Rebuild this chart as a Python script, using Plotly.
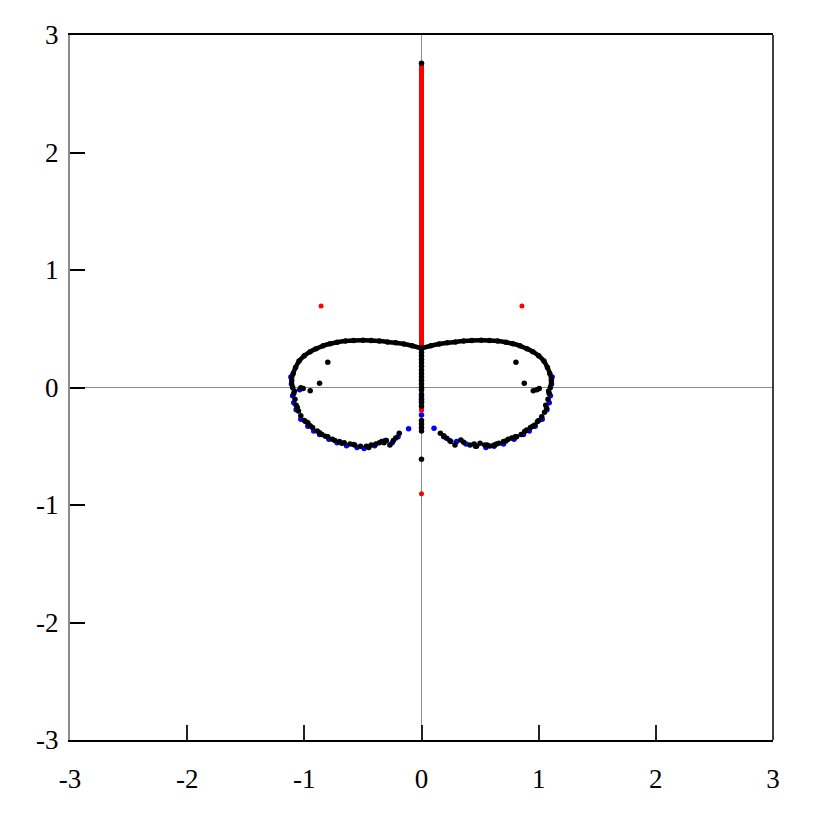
import plotly.graph_objects as go

# Upper (black) arc, left and right halves, listed from outer end to cusp
arc_left_x = [-1.10, -1.108, -1.095, -1.075, -1.045, -1.00, -0.95, -0.90, -0.84, -0.78, -0.72, -0.65, -0.58, -0.50, -0.43, -0.36, -0.29, -0.22, -0.15, -0.08, 0.0]
arc_left_y = [0.00, 0.06, 0.12, 0.17, 0.225, 0.27, 0.305, 0.33, 0.355, 0.372, 0.385, 0.395, 0.40, 0.402, 0.40, 0.395, 0.388, 0.38, 0.37, 0.355, 0.333]
arc_right_x = [1.10, 1.108, 1.095, 1.075, 1.045, 1.00, 0.95, 0.90, 0.84, 0.78, 0.72, 0.65, 0.58, 0.51, 0.43, 0.36, 0.29, 0.22, 0.15, 0.08, 0.0]
arc_right_y = [0.00, 0.06, 0.12, 0.17, 0.225, 0.27, 0.305, 0.33, 0.355, 0.372, 0.385, 0.395, 0.40, 0.402, 0.40, 0.395, 0.388, 0.38, 0.37, 0.355, 0.333]

# Scattered black points (lower arc, interior points, points on the imaginary axis)
black_x = [-1.09, -1.08, -1.07, -1.05, -1.03, -1.00, -0.97, -0.93, -0.89, -0.85, -0.80, -0.76, -0.70, -0.66, -0.61, -0.57, -0.52, -0.47, -0.43, -0.39, -0.34, -0.30, -0.27, -0.22, -0.19,
           -1.085, -1.06, -0.99, -0.95, -0.87, -0.82, -0.74, -0.68, -0.58, -0.45, -0.36, -0.32, -0.24,
           -0.80, -0.87, -1.01, -1.03, -0.95,
           1.09, 1.08, 1.068, 1.05, 1.026, 0.99, 0.968, 0.93, 0.898, 0.85, 0.812, 0.77, 0.74, 0.70, 0.66, 0.62, 0.584, 0.54, 0.50, 0.45, 0.414, 0.336, 0.286, 0.215, 0.161,
           1.085, 1.06, 1.0, 0.95, 0.88, 0.80, 0.72, 0.64, 0.56, 0.47, 0.36, 0.25, 0.19,
           0.806, 0.877, 0.954, 1.005, 0.985,
           0, 0, 0, 0, 0, 0, 0, 0, 0, 0, 0, 0, 0, 0, 0, 0, 0, 0, 0, 0, 0, 0, 0]
black_y = [-0.05, -0.10, -0.15, -0.20, -0.24, -0.28, -0.30, -0.34, -0.37, -0.40, -0.42, -0.44, -0.46, -0.47, -0.48, -0.49, -0.50, -0.50, -0.49, -0.48, -0.46, -0.45, -0.49, -0.43, -0.39,
           -0.03, -0.17, -0.29, -0.325, -0.385, -0.415, -0.45, -0.475, -0.485, -0.51, -0.47, -0.47, -0.45,
           0.214, 0.036, -0.008, -0.003, -0.027,
           -0.05, -0.10, -0.177, -0.21, -0.248, -0.29, -0.319, -0.34, -0.362, -0.40, -0.419, -0.43, -0.44, -0.46, -0.475, -0.49, -0.497, -0.49, -0.475, -0.48, -0.49, -0.447, -0.49, -0.432, -0.39,
           -0.03, -0.15, -0.28, -0.33, -0.375, -0.42, -0.455, -0.48, -0.49, -0.50, -0.465, -0.46, -0.41,
           0.214, 0.036, -0.027, -0.008, -0.02,
           0.33, 0.30, 0.27, 0.24, 0.21, 0.18, 0.15, 0.12, 0.09, 0.06, 0.03, 0.0, -0.02, -0.06, -0.10, -0.13, -0.16, -0.28, -0.31, -0.34, -0.37, -0.61, 2.76]

# Blue points
blue_x = [-1.11, -1.115, -1.10, -1.09, -1.07, -1.03, -0.97, -0.92, -0.87, -0.79, -0.72, -0.64, -0.55, -0.49, -0.40, -0.31, -0.25, -0.20, -0.11, -1.04,
          1.11, 1.115, 1.10, 1.09, 1.07, 1.03, 0.97, 0.92, 0.87, 0.79, 0.70, 0.62, 0.55, 0.46, 0.38, 0.30, 0.24, 0.19, 0.107,
          0, 0, 0]
blue_y = [0.03, 0.09, -0.07, -0.13, -0.19, -0.27, -0.33, -0.37, -0.40, -0.44, -0.47, -0.495, -0.51, -0.52, -0.495, -0.45, -0.47, -0.42, -0.35, -0.02,
          0.03, 0.09, -0.07, -0.13, -0.19, -0.27, -0.33, -0.37, -0.40, -0.44, -0.48, -0.50, -0.51, -0.50, -0.48, -0.46, -0.45, -0.42, -0.347,
          -0.08, -0.12, -0.235]

# Red: segment on the imaginary axis plus isolated points
red_line_y = [0.34, 0.50, 0.75, 1.00, 1.25, 1.50, 1.75, 2.00, 2.25, 2.50, 2.74]
red_line_x = [0.0] * len(red_line_y)
red_pts_x = [-0.857, 0.857, 0, 0, 0, 0]
red_pts_y = [0.694, 0.694, -0.035, -0.18, -0.195, -0.905]

tick_vals = [-3, -2, -1, 0, 1, 2, 3]
tick_text = ["-3", "-2", "-1", "0", "1", "2", "3"]

fig = go.Figure()
fig.add_trace(go.Scatter(x=blue_x, y=blue_y, mode="markers",
                         marker=dict(color="#0000ff", size=5.5), showlegend=False))
fig.add_trace(go.Scatter(x=red_line_x, y=red_line_y, mode="lines+markers",
                         line=dict(color="#ff0000", width=5),
                         marker=dict(color="#ff0000", size=5), showlegend=False))
fig.add_trace(go.Scatter(x=red_pts_x, y=red_pts_y, mode="markers",
                         marker=dict(color="#ff0000", size=5), showlegend=False))
for ax_x, ax_y in [(arc_left_x, arc_left_y), (arc_right_x, arc_right_y)]:
    fig.add_trace(go.Scatter(x=ax_x, y=ax_y, mode="lines+markers",
                             line=dict(color="#000000", width=4.5, shape="spline"),
                             marker=dict(color="#000000", size=5.5), showlegend=False))
fig.add_trace(go.Scatter(x=black_x, y=black_y, mode="markers",
                         marker=dict(color="#000000", size=5.5), showlegend=False))

font = dict(family="Liberation Serif", size=27, color="#000000")
fig.update_layout(
    width=809, height=809,
    margin=dict(l=62, r=44, t=27, b=77),
    paper_bgcolor="white", plot_bgcolor="white",
    font=font,
    xaxis=dict(range=[-3, 3], tickvals=tick_vals, ticktext=tick_text,
               showgrid=False, zeroline=True, zerolinecolor="#8c8c8c", zerolinewidth=1,
               showline=True, linecolor="#000000", linewidth=1.5, mirror=True,
               ticks="inside", ticklen=15, tickwidth=1.5, tickcolor="#222222",
               ticklabelstandoff=14, tickfont=font),
    yaxis=dict(range=[-3, 3], tickvals=tick_vals, ticktext=tick_text,
               showgrid=False, zeroline=True, zerolinecolor="#8c8c8c", zerolinewidth=1,
               showline=True, linecolor="#8c8c8c", linewidth=2, mirror=False,
               ticks="inside", ticklen=15, tickwidth=1.5, tickcolor="#000000",
               ticklabelstandoff=4, tickfont=font),
    shapes=[dict(type="line", xref="paper", yref="paper", x0=1, x1=1, y0=0, y1=1,
                 line=dict(color="#000000", width=1.5))],
)
fig.write_html("out.html")
